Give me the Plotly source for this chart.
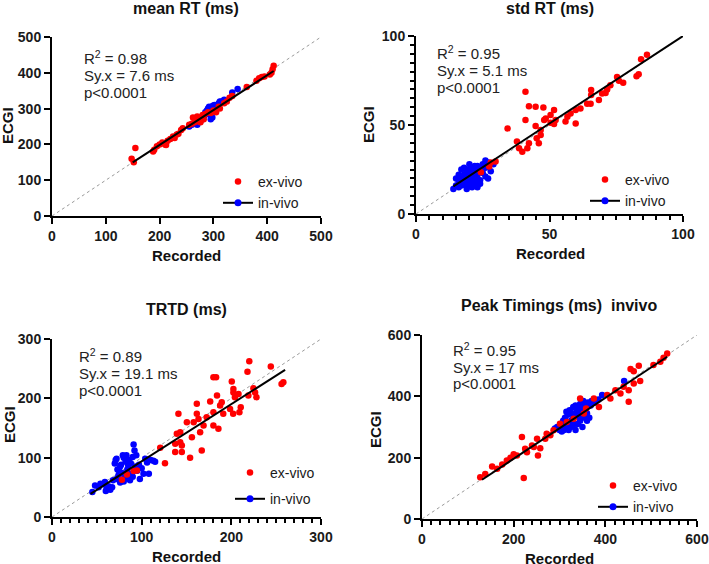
import plotly.graph_objects as go

# ---------------- data ----------------
# Panel 1: mean RT (ms)
P1_EX_X = [148, 152, 155, 188, 190, 195, 200, 205, 210, 212, 215, 220, 225, 228, 232, 235, 240, 243, 255, 260,
           262, 265, 268, 270, 272, 275, 278, 280, 282, 285, 290, 295, 300, 305, 310, 312, 320, 325, 330, 335,
           362, 380, 385, 390, 395, 405, 408, 410, 412, 266, 276, 302]
P1_EX_Y = [160, 150, 190, 180, 185, 195, 200, 205, 200, 198, 210, 215, 222, 218, 228, 230, 240, 245, 255, 258,
           275, 262, 270, 278, 265, 268, 275, 282, 270, 285, 290, 288, 295, 290, 305, 300, 315, 320, 330, 335,
           360, 378, 385, 388, 390, 395, 400, 410, 420, 272, 262, 292]
P1_IN_X = [255, 260, 265, 270, 275, 280, 285, 288, 290, 292, 295, 298, 300, 302, 305, 308, 310, 312, 315, 320,
           335, 345, 295, 290, 296, 304, 283, 299]
P1_IN_Y = [250, 255, 260, 255, 265, 270, 290, 295, 300, 305, 295, 275, 300, 310, 305, 310, 315, 320, 320, 325,
           345, 355, 270, 285, 302, 296, 280, 308]
P1_FIT_X = [150, 412]
P1_FIT_Y = [150, 405]

# Panel 2: std RT (ms)
P2_EX_X = [84.3, 86.5, 82.6, 83.4, 75.3, 76, 77.6, 72.8, 71.6, 71, 69.7, 68.5, 65.6, 65.6, 65.4, 64.1, 61.6, 59.8,
           57.9, 56.7, 56, 59.8, 52.3, 51.7, 51.7, 50.4, 48.6, 48, 47.7, 44.8, 42.3, 41, 41, 44.8, 46.7, 46.7,
           45.2, 46, 42.3, 41.7, 37.8, 38.6, 39.8, 34.3, 50.4, 28, 29.8, 27.4, 24.3]
P2_EX_Y = [87, 89.5, 77.4, 78.5, 77, 74.8, 73.7, 72.4, 70, 68, 67.7, 64, 69.6, 66.8, 62, 62, 59.3, 58.4,
           56.5, 54.7, 51.9, 50.9, 52.8, 50.6, 58.4, 55.6, 53.7, 52.8, 59.9, 60.3, 60.6, 68.7, 52.8, 49.4, 47.2, 44.4,
           42.5, 39.7, 39.7, 37, 40.7, 37, 35, 48.1, 51.3, 29, 29.5, 26.7, 23.5]
P2_IN_X = [14, 15, 16, 16, 17, 17, 18, 18, 18, 19, 19, 19, 19, 20, 20, 20, 20, 21, 21, 21, 21, 22, 22, 22, 22,
           23, 23, 23, 24, 24, 24, 25, 25, 26, 26, 26, 27, 28, 29, 15, 17, 18, 20, 22, 16, 27, 19, 23]
P2_IN_Y = [14, 16, 15, 18, 20, 16, 22, 17, 19, 24, 21, 18, 16, 25, 22, 20, 17, 26, 23, 19, 15, 24, 21, 18, 16,
           27, 22, 20, 25, 19, 17, 28, 23, 30, 26, 21, 29, 24, 28, 20, 25, 26, 28, 27, 22, 20, 14, 15]
P2_FIT_X = [14, 100]
P2_FIT_Y = [15.5, 100]

# Panel 3: TRTD (ms)
P3_EX_X = [220, 244, 218, 200.5, 180, 183, 258, 256, 224.6, 226.5, 219, 228, 202.3, 202.3, 208, 204, 210.5, 198.6,
           191, 189.3, 176.4, 180, 184, 161.5, 161.5, 163.4, 158, 150.4, 141, 143, 139.2, 165.2, 169, 156, 143,
           144.8, 137.4, 144.8, 137.4, 154, 167, 180, 185.6, 120.7, 126, 94.7, 91, 83.6, 78, 202, 209, 187.5, 172.5]
P3_EX_Y = [262.5, 253.5, 244.9, 228.3, 235.6, 235.6, 227, 224, 217, 210, 204.7, 202, 215.9, 210, 207.5, 202, 185,
           182.2, 174, 193.5, 194.6, 176.7, 204.7, 190.7, 174, 165, 159.8, 159.8, 174, 143, 140.2, 143, 154.2, 134.6,
           126, 120.6, 123.4, 109.4, 109.4, 99.8, 112, 154.2, 148.6, 116.7, 90.8, 78.5, 77.4, 71.8, 62.8, 174, 176.7,
           188, 168]
P3_IN_X = [45, 48, 52, 54, 57, 59, 61, 63, 65, 67, 68, 70, 71, 72, 73, 74, 75, 76, 77, 78, 79, 80, 81, 82, 83,
           84, 85, 86, 87, 88, 89, 90, 91, 92, 93, 94, 95, 97, 98, 100, 102, 104, 106, 108, 110, 113, 115, 80, 83,
           86, 90, 76, 72, 60]
P3_IN_Y = [42, 53, 50, 56, 55, 59, 48, 52, 46, 50, 62, 90, 96, 98, 80, 70, 77, 85, 88, 74, 104, 100, 68, 93, 104,
           80, 87, 96, 62, 90, 70, 101, 122, 112, 85, 104, 78, 88, 64, 82, 73, 98, 92, 73, 96, 95, 93, 60, 66,
           73, 68, 58, 64, 44]
P3_FIT_X = [43, 260]
P3_FIT_Y = [39, 248]

# Panel 4: Peak Timings (ms) invivo
P4_EX_X = [127, 222, 138, 153, 164, 175, 193, 207, 218, 225, 229, 240, 251, 253, 258, 269, 272, 287, 301, 345,
           353, 375, 386, 404, 411, 422, 433, 451, 451, 455, 462, 473, 476, 462, 505, 520, 535, 527, 440, 358,
           331, 316, 280, 200, 185, 244]
P4_EX_Y = [136, 134, 147, 171, 164, 178, 200, 207, 267, 229, 218, 240, 262, 207, 231, 262, 278, 289, 311, 393,
           344, 393, 365, 404, 393, 420, 409, 382, 420, 489, 482, 500, 450, 442, 502, 513, 540, 526, 431, 360,
           327, 316, 273, 211, 191, 235]
P4_IN_X = [290, 295, 300, 305, 308, 310, 312, 315, 318, 320, 320, 322, 325, 325, 328, 330, 330, 332, 335, 335,
           338, 340, 340, 342, 345, 345, 348, 350, 352, 355, 355, 358, 360, 362, 365, 368, 370, 378, 385, 393,
           441, 315, 305, 350, 360]
P4_IN_Y = [295, 300, 290, 305, 320, 290, 330, 300, 340, 310, 290, 355, 320, 300, 345, 365, 330, 310, 370, 290,
           350, 335, 310, 360, 375, 320, 340, 300, 385, 365, 330, 375, 320, 380, 330, 370, 385, 380, 390, 404,
           450, 350, 285, 355, 345]
P4_FIT_X = [131, 535]
P4_FIT_Y = [128, 529]

TITLES = ["mean RT (ms)", "std RT (ms)", "TRTD (ms)", "Peak Timings (ms)  invivo"]
STATS = [["R<sup>2</sup> = 0.98", "Sy.x = 7.6 ms", "p<0.0001"],
         ["R<sup>2</sup> = 0.95", "Sy.x = 5.1 ms", "p<0.0001"],
         ["R<sup>2</sup> = 0.89", "Sy.x = 19.1 ms", "p<0.0001"],
         ["R<sup>2</sup> = 0.95", "Sy.x = 17 ms", "p<0.0001"]]
AX_MAX = [500, 100, 300, 600]
MAJOR = [100, 50, 100, 200]
MINOR_X = [None, 5, 10, 20]
MINOR_Y = [None, 5, None, None]

# ---------------- layout geometry (pixels) ----------------
W, H = 709, 564
FONT = "Liberation Sans, Arial, sans-serif"
RED = "#ff0000"
BLUE = "#0000ff"

def fx(p):
    return p / W

def fy(p):
    return 1 - p / H

# plot boxes: left, right, top, bottom
BOX = [(52, 321, 37, 216), (416, 683, 36, 214), (52, 321, 339, 517), (422, 697, 335, 519)]
TITLE_POS = [(186, 9), (550, 9), (187, 309), (559, 305)]
XLAB_POS = [(186, 255), (550, 253), (187, 556), (559, 558)]
YLAB_POS = [(8, 126), (369, 125), (9, 425), (375, 429)]
STAT_POS = [(82, [58, 75, 92]), (435, [52, 70, 87]), (77, [355, 373, 390]), (451, [349, 367, 383])]
LEG_POS = [(218, 166, 0), (585, 164, 0), (230, 457, 5), (593, 470, 0)]

data_sets = [
    (P1_EX_X, P1_EX_Y, P1_IN_X, P1_IN_Y, P1_FIT_X, P1_FIT_Y),
    (P2_EX_X, P2_EX_Y, P2_IN_X, P2_IN_Y, P2_FIT_X, P2_FIT_Y),
    (P3_EX_X, P3_EX_Y, P3_IN_X, P3_IN_Y, P3_FIT_X, P3_FIT_Y),
    (P4_EX_X, P4_EX_Y, P4_IN_X, P4_IN_Y, P4_FIT_X, P4_FIT_Y),
]

fig = go.Figure()
annotations = []
layout = dict(
    width=W, height=H, margin=dict(l=0, r=0, t=0, b=0, autoexpand=False),
    paper_bgcolor="white", plot_bgcolor="white",
    font=dict(family=FONT, color="#1a1a1a"),
)

for i, (ex_x, ex_y, in_x, in_y, fit_x, fit_y) in enumerate(data_sets):
    n = "" if i == 0 else str(i + 1)
    xa, ya = "x" + n, "y" + n
    leg = "legend" + n
    m = AX_MAX[i]

    # identity line
    fig.add_trace(go.Scatter(x=[0, m], y=[0, m], mode="lines", xaxis=xa, yaxis=ya,
                             line=dict(color="#9a9a9a", width=1, dash="dot"), showlegend=False,
                             hoverinfo="skip"))
    fig.add_trace(go.Scatter(x=in_x, y=in_y, mode="markers", xaxis=xa, yaxis=ya,
                             marker=dict(color=BLUE, size=6.5), showlegend=False, name="in-vivo"))
    fig.add_trace(go.Scatter(x=ex_x, y=ex_y, mode="markers", xaxis=xa, yaxis=ya, name="ex-vivo",
                             marker=dict(color=RED, size=6.5), showlegend=True, legend=leg,
                             legendgroup="ex" + n))
    fig.add_trace(go.Scatter(x=fit_x, y=fit_y, mode="lines", xaxis=xa, yaxis=ya,
                             line=dict(color="black", width=2), showlegend=False))
    # legend entry for in-vivo (line + marker symbol)
    fig.add_trace(go.Scatter(x=[None], y=[None], mode="lines+markers", xaxis=xa, yaxis=ya, name="in-vivo",
                             line=dict(color="black", width=2), marker=dict(color=BLUE, size=7),
                             showlegend=True, legend=leg, legendgroup="in" + n))

    l, r, t, b = BOX[i]
    axis_common = dict(
        range=[0, m], showgrid=False, zeroline=False, showline=True, linecolor="black", linewidth=2,
        ticks="outside", ticklen=6, tickwidth=2, tickcolor="black", dtick=MAJOR[i], tick0=0,
        tickfont=dict(family=FONT, size=14, color="#1a1a1a", weight="bold"), fixedrange=True,
        automargin=False,
    )
    xaxis = dict(axis_common, domain=[fx(l), fx(r)], anchor=ya)
    yaxis = dict(axis_common, domain=[fy(b), fy(t)], anchor=xa)
    if MINOR_X[i]:
        xaxis["minor"] = dict(dtick=MINOR_X[i], ticks="outside", ticklen=4, tickwidth=1.5, tickcolor="black")
    if MINOR_Y[i]:
        yaxis["minor"] = dict(dtick=MINOR_Y[i], ticks="outside", ticklen=4, tickwidth=1.5, tickcolor="black")
    layout["xaxis" + n] = xaxis
    layout["yaxis" + n] = yaxis

    lx, ly, gap = LEG_POS[i]
    layout[leg] = dict(x=fx(lx), y=fy(ly), xanchor="left", yanchor="top", bgcolor="rgba(0,0,0,0)",
                       font=dict(family=FONT, size=14, color="#1a1a1a"), tracegroupgap=gap,
                       itemclick=False, itemdoubleclick=False)

    tx, ty = TITLE_POS[i]
    annotations.append(dict(text=TITLES[i], x=fx(tx), y=fy(ty), xref="paper", yref="paper",
                            showarrow=False, xanchor="center", yanchor="middle",
                            font=dict(family=FONT, size=16, color="#111", weight="bold")))
    ax_, ay_ = XLAB_POS[i]
    annotations.append(dict(text="Recorded", x=fx(ax_), y=fy(ay_), xref="paper", yref="paper",
                            showarrow=False, xanchor="center", yanchor="middle",
                            font=dict(family=FONT, size=15, color="#111", weight="bold")))
    bx, by = YLAB_POS[i]
    annotations.append(dict(text="ECGI", x=fx(bx), y=fy(by), xref="paper", yref="paper",
                            showarrow=False, xanchor="center", yanchor="middle", textangle=-90,
                            font=dict(family=FONT, size=15, color="#111", weight="bold")))
    sx, sys_ = STAT_POS[i]
    for txt, yy in zip(STATS[i], sys_):
        annotations.append(dict(text=txt, x=fx(sx), y=fy(yy), xref="paper", yref="paper",
                                showarrow=False, xanchor="left", yanchor="middle",
                                font=dict(family=FONT, size=15, color="#222")))

layout["annotations"] = annotations
fig.update_layout(**layout)
fig.write_html("out.html", config={"displayModeBar": False},
               post_script="document.body.style.margin='0';document.body.style.overflow='hidden';")
